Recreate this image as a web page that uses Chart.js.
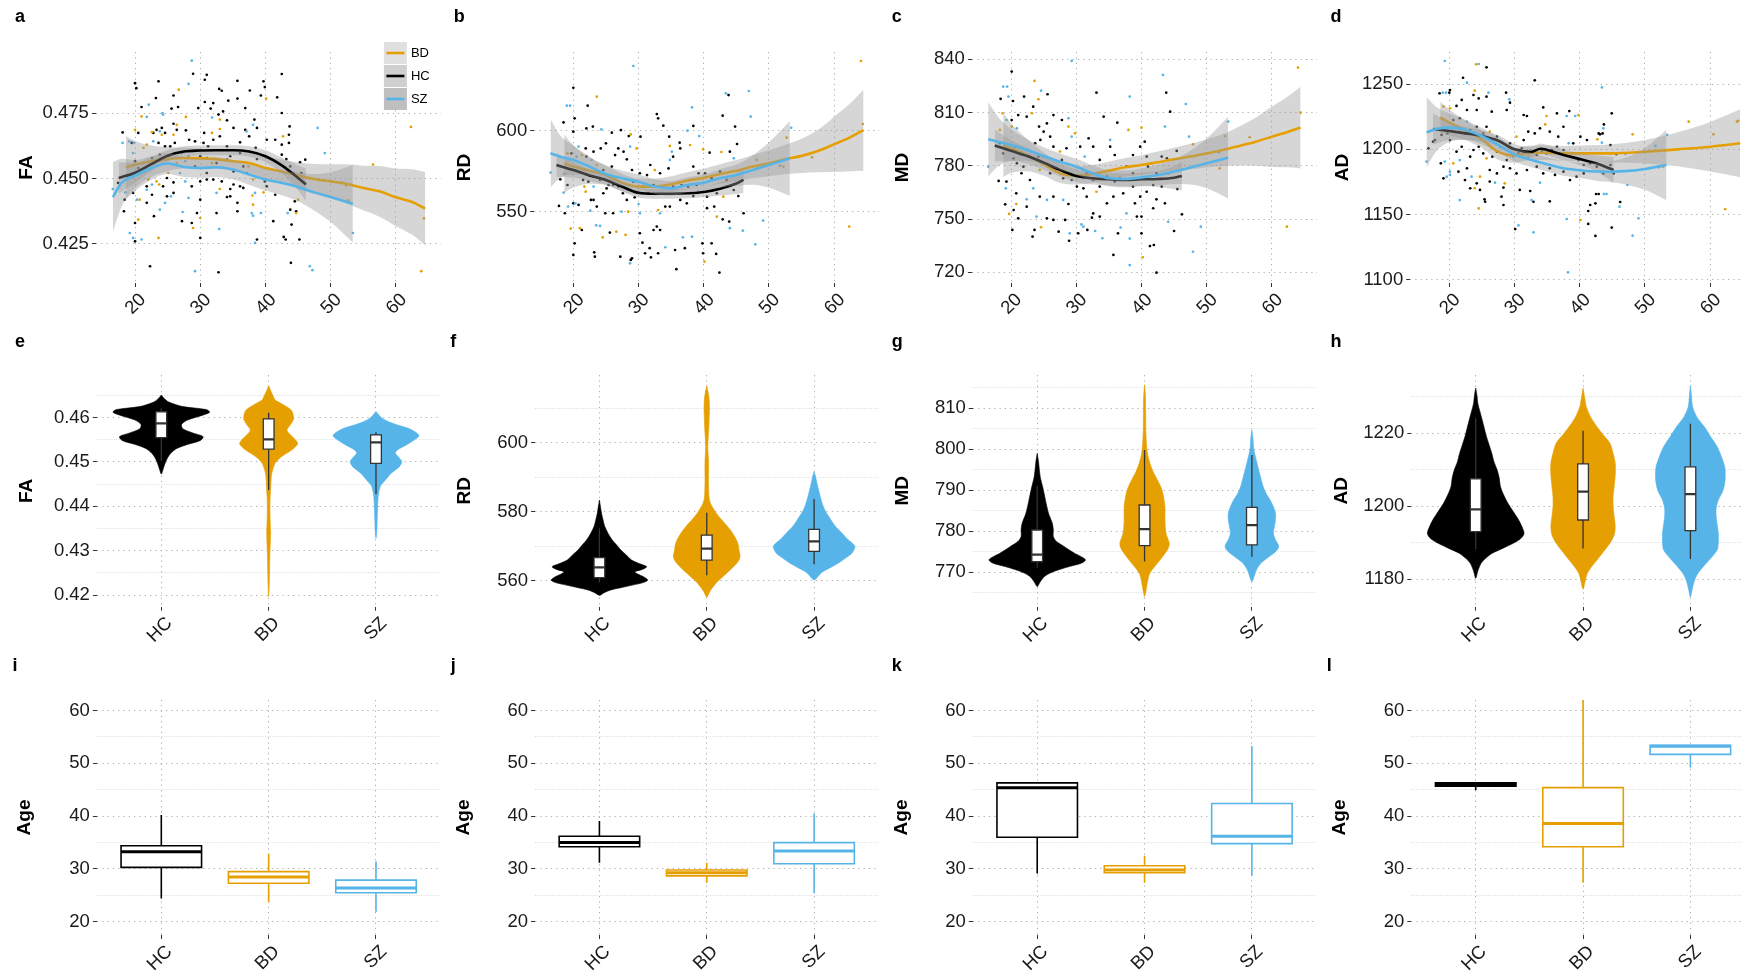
<!DOCTYPE html>
<html>
<head>
<meta charset="utf-8">
<title>DTI metrics by age and diagnosis</title>
<script src="https://cdn.jsdelivr.net/npm/chart.js@4.4.1/dist/chart.umd.min.js"></script>
<style>
  html, body { margin: 0; padding: 0; background: #ffffff; }
  body { position: relative; width: 1742px; height: 971px; overflow: hidden; }
  canvas { position: absolute; }
  .panel-letter { position: absolute; width: 30px; text-align: center; font: bold 18px "Liberation Sans", Arial, Helvetica, sans-serif; line-height: 18px; color: #000; }
</style>
</head>
<body>
<script>
// ---------- groups ----------
const CATEGORIES = ['HC', 'BD', 'SZ'];
const GROUP_COLORS = { HC: '#000000', BD: '#E69F00', SZ: '#56B4E9' };

// ---------- axes ----------
const AGE_TICKS = [20, 30, 40, 50, 60];
const AGE_RANGE = [14.0, 66.9];
const CAT_TICKS = [1, 2, 3];
const CAT_RANGE = [0.4, 3.6];

// ---------- panel a: FA vs age (age, FA pairs) ----------
const faPtsHC = [28.9,.4900, 31.0,.4896, 30.7,.4877, 42.5,.4899, 35.7,.4873, 39.7,.4871, 20.2,.4845, 20.0,.4864, 23.6,.4871, 32.9,.4842, 33.3,.4835, 37.6,.4836, 39.9,.4849, 39.3,.4817, 41.8,.4810, 25.9,.4817, 23.2,.4807, 30.7,.4792, 32.0,.4788, 34.3,.4797, 35.7,.4805, 21.0,.4773, 29.7,.4769, 31.6,.4767, 36.9,.4769, 25.6,.4767, 26.6,.4773, 34.1,.4722, 42.5,.4750, 38.3,.4725, 32.8,.4744, 33.5,.4756, 25.9,.4709, 26.4,.4686, 27.8,.4684, 23.3,.4686, 24.1,.4693, 22.8,.4674, 18.1,.4676, 20.5,.4674, 24.6,.4674, 30.6,.4674, 35.1,.4693, 36.9,.4686, 38.7,.4693, 43.7,.4699, 43.6,.4667, 43.6,.4636, 19.5,.4636, 23.6,.4636, 24.6,.4623, 25.4,.4623, 26.1,.4636, 28.3,.4648, 29.2,.4642, 30.5,.4636, 31.2,.4623, 32.0,.4648, 33.0,.4661, 34.1,.4623, 36.1,.4638, 37.5,.4661, 38.5,.4617, 40.2,.4648, 41.5,.4648, 42.5,.4629, 42.5,.4591, 43.2,.4574, 38.7,.4574, 36.1,.4597, 34.6,.4585, 32.5,.4559, 31.0,.4578, 30.0,.4585, 23.8,.4591, 22.6,.4578, 21.3,.4559, 20.0,.4566, 43.8,.4546, 44.3,.4521, 45.5,.4521, 46.1,.4572, 45.3,.4562, 44.7,.4375, 43.8,.4381, 43.1,.4267, 44.0,.4324, 45.2,.4267, 43.9,.4178, 42.8,.4277, 44.5,.4413, 41.2,.4337, 41.5,.4438, 40.2,.4470, 39.9,.4489, 38.7,.4267, 35.7,.4407, 35.7,.4375, 34.6,.4432, 34.1,.4429, 34.6,.4460, 35.1,.4477, 36.1,.4470, 36.6,.4464, 33.3,.4489, 32.0,.4496, 31.0,.4496, 30.0,.4489, 30.0,.4419, 29.5,.4368, 30.0,.4273, 28.7,.4330, 27.2,.4337, 28.7,.4470, 25.9,.4485, 24.9,.4502, 25.9,.4445, 22.9,.4356, 20.0,.4260, 20.0,.4330, 19.7,.4445, 18.4,.4419, 18.3,.4375, 17.4,.4483, 21.8,.4470, 24.3,.4470, 22.6,.4438, 24.9,.4432, 21.8,.4407, 22.3,.4165, 32.8,.4142, 32.5,.4368, 20.5,.4540, 19.5,.4515, 29.2,.4546, 31.0,.4521, 34.1,.4572, 35.1,.4527, 36.6,.4546, 37.1,.4521];
const faPtsBD = [26.7,.4839, 40.1,.4805, 27.8,.4735, 21.0,.4737, 33.0,.4725, 26.4,.4705, 22.6,.4677, 20.0,.4686, 24.1,.4667, 25.9,.4667, 31.8,.4674, 33.0,.4689, 42.7,.4661, 21.8,.4629, 21.3,.4617, 56.5,.4553, 62.3,.4697, 64.3,.4348, 63.9,.4146, 52.7,.4417, 52.4,.4474, 48.1,.4496, 45.0,.4419, 44.7,.4368, 39.7,.4447, 38.1,.4496, 38.0,.4435, 38.1,.4400, 33.0,.4460, 30.0,.4349, 28.9,.4311, 23.6,.4273, 20.5,.4343, 20.7,.4419, 22.0,.4496, 23.3,.4489, 23.7,.4477, 25.1,.4521, 26.4,.4559, 31.8,.4559, 37.4,.4546];
const faPtsSZ = [28.7,.4950, 28.2,.4861, 22.1,.4782, 24.2,.4750, 24.3,.4744, 21.8,.4735, 31.8,.4733, 23.8,.4680, 37.1,.4680, 38.1,.4705, 48.0,.4693, 19.8,.4636, 19.1,.4642, 22.8,.4642, 28.2,.4585, 27.2,.4597, 19.7,.4597, 18.1,.4636, 49.1,.4597, 53.4,.4292, 51.7,.4485, 43.4,.4368, 46.8,.4165, 47.2,.4150, 38.4,.4445, 37.9,.4368, 38.1,.4358, 39.3,.4368, 38.4,.4254, 32.5,.4445, 27.3,.4372, 28.2,.4426, 27.7,.4489, 26.9,.4521, 25.5,.4432, 24.6,.4407, 23.8,.4381, 21.0,.4267, 19.7,.4273, 19.2,.4292, 20.3,.4419, 18.5,.4447, 18.7,.4496, 16.6,.4460, 22.6,.4477, 21.8,.4457, 29.2,.4146, 32.9,.4307, 21.5,.4527, 27.7,.4566];
// smooth fits: [age, fit, half-width of confidence band]
const faFitBD = [[18.6,.4542,.012],[20,.4553,.009],[22.5,.4566,.006],[25,.4574,.0045],[27.5,.4578,.004],[30,.4577,.0037],[32.5,.4574,.0036],[35,.4566,.0037],[37.5,.4559,.0039],[40,.4540,.0042],[42.5,.4527,.0046],[45,.4511,.005],[47.5,.4498,.0057],[50,.4489,.0065],[52.5,.4479,.0075],[55,.4464,.0085],[57.5,.4451,.0097],[60,.4428,.011],[62.5,.4410,.0125],[64.5,.4385,.014]];
const faFitHC = [[17.5,.4502,.006],[20,.4522,.0038],[22.5,.4555,.0027],[25,.4587,.0022],[27.5,.4603,.002],[30,.4607,.0019],[32.5,.4608,.0019],[35,.4608,.0019],[37.5,.4603,.002],[40,.4585,.0023],[42.5,.4550,.003],[45,.4502,.0048],[46.2,.4477,.0062]];
const faFitSZ = [[16.6,.4429,.0134],[18,.4485,.009],[20,.4511,.006],[22.5,.4540,.0045],[25,.4557,.004],[27.5,.4544,.0038],[30,.4540,.0037],[32.5,.4543,.0037],[35,.4534,.0037],[37.5,.4515,.0039],[40,.4496,.0042],[42.5,.4483,.0047],[45,.4468,.0055],[47.5,.4447,.007],[50,.4429,.0095],[53.4,.4404,.0148]];

// ---------- panel b: RD vs age ----------
const rdPtsHC = [20.0,626.4, 20.2,607.6, 22.2,615.4, 18.5,605.1, 23.0,602.5, 22.0,601.4, 20.0,599.4, 25.9,598.8, 27.3,600.4, 28.5,596.7, 30.3,596.3, 32.8,610.2, 33.8,603.1, 33.0,607.6, 34.7,596.3, 36.3,592.6, 40.9,586.5, 44.0,587.1, 45.1,591.8, 38.4,602.9, 43.8,621.9, 42.9,609.2, 44.8,602.5, 46.1,549.2, 43.9,544.1, 42.9,545.5, 41.6,553.3, 40.5,552.3, 39.9,524.6, 41.9,524.2, 42.4,512.7, 41.2,530.7, 39.8,530.7, 37.1,527.7, 35.8,514.8, 35.6,526.6, 32.8,541.0, 33.3,538.9, 32.3,538.9, 31.7,527.7, 31.9,522.1, 31.0,524.6, 30.6,531.1, 33.0,524.6, 30.2,536.9, 28.8,520.5, 29.0,521.5, 27.2,522.5, 25.6,537.3, 23.2,525.2, 23.3,522.5, 21.3,538.9, 20.2,530.7, 20.0,523.6, 18.7,549.2, 20.0,555.3, 20.8,554.3, 17.8,553.7, 18.0,570.1, 19.1,566.6, 22.7,557.4, 23.1,557.4, 24.6,561.5, 25.1,564.5, 26.1,566.6, 26.9,565.6, 27.6,561.5, 28.2,557.4, 29.4,559.0, 31.5,561.5, 34.1,553.3, 34.8,553.3, 36.4,557.4, 37.4,555.3, 38.4,559.8, 40.5,559.4, 42.0,561.5, 43.5,565.6, 44.6,563.5, 45.3,559.8, 25.9,577.9, 24.6,575.8, 22.0,584.0, 19.7,586.1, 21.9,589.1, 23.1,587.1, 24.2,589.1, 25.0,592.2, 26.4,585.0, 26.9,589.1, 27.7,587.1, 28.2,582.4, 29.0,575.8, 30.2,573.8, 31.3,572.7, 31.8,578.9, 33.3,573.8, 34.6,576.8, 35.3,584.0, 36.4,589.1, 38.4,577.9, 39.2,573.8, 40.2,573.8, 41.2,570.7, 42.5,574.8, 43.5,569.7, 25.4,566.6, 24.1,569.7, 22.3,568.6, 21.5,569.7, 35.3,565.6, 36.6,566.6, 37.6,565.6, 38.9,566.6, 32.3,566.6, 30.7,565.6, 29.2,568.6, 23.6,553.3, 24.9,549.2, 26.1,549.2];
const rdPtsBD = [64.1,642.8, 64.4,604.1, 56.6,583.6, 62.3,541.0, 23.6,620.9, 28.8,597.7, 34.8,590.6, 37.9,591.2, 39.9,588.5, 42.7,586.9, 52.2,577.9, 52.7,595.7, 48.1,582.0, 42.0,547.1, 40.1,519.5, 28.0,535.9, 26.6,537.9, 24.5,534.4, 21.0,540.0, 19.6,539.8, 21.7,565.6, 21.9,562.5, 33.0,551.2, 43.0,559.4, 23.6,578.9, 21.3,585.0, 19.1,586.1, 29.7,589.1, 32.5,575.8, 28.4,550.2];
const rdPtsSZ = [29.2,639.8, 46.9,624.4, 47.2,608.6, 43.4,623.0, 38.2,614.3, 39.3,596.7, 37.5,600.0, 19.0,615.4, 19.5,615.4, 24.3,600.8, 35.1,587.1, 44.6,583.0, 51.7,578.5, 53.4,601.8, 46.0,538.5, 47.9,530.1, 49.1,544.7, 44.0,540.0, 38.2,534.8, 36.8,534.4, 34.1,528.3, 28.7,518.4, 24.1,541.4, 23.5,541.8, 19.2,553.3, 20.3,555.3, 18.5,561.9, 18.6,573.4, 30.0,554.9, 30.2,549.2, 33.3,549.2, 39.1,562.5, 22.8,582.0, 20.5,584.0, 20.8,590.2, 28.7,590.2, 34.8,582.0, 25.9,570.7, 23.1,565.6, 27.4,550.2, 22.6,550.8, 16.5,574.2];
const rdFitBD = [[18.6,579.8,18],[20,577.9,13],[22.5,575.4,8],[25,572.7,6],[27.5,568,5.3],[30,565.6,5],[32.5,565.6,5],[35,567,5],[37.5,569.3,5.2],[40,571.1,5.5],[42.5,573.4,6],[45,575.4,6.5],[47.5,577.9,7.2],[50,579.9,8],[52.5,582.4,9],[55,584.5,10.5],[57.5,587.5,13],[60,591.6,17],[62.5,596,21],[64.5,600.4,25]];
const rdFitHC = [[17.4,578.9,7.5],[20,575.8,4.8],[22.5,572.5,3.6],[25,569.7,3.1],[27.5,565.5,3],[30,561.8,3],[32.5,561.2,3],[35,561.2,3],[37.5,561.5,3.1],[40,562.3,3.3],[42.5,564.3,4.2],[45,567.5,6.5],[46.1,569.7,8]];
const rdFitSZ = [[16.5,586.1,21],[18,584,13],[20,582,9],[22.5,577.9,6],[25,573.4,5],[27.5,570.7,4.7],[30,568.6,4.5],[32.5,565.6,4.5],[35,564.5,4.5],[37.5,566.6,4.7],[40,568,5],[42.5,570.7,5.6],[45,572.7,6.5],[47.5,575.8,9],[50,578.9,14],[53.2,583,23]];

// ---------- panel c: MD vs age ----------
const mdPtsHC = [20.1,833.1, 18.4,817.7, 20.3,816.5, 22.0,819.0, 25.6,820.3, 33.1,821.2, 43.8,821.2, 44.4,810.5, 46.2,752.7, 45.5,766.9, 45.4,788.4, 45.0,743.3, 43.6,758.9, 43.1,768.3, 42.3,761.1, 41.8,756.1, 41.9,735.4, 41.3,734.8, 42.3,719.8, 40.0,751.4, 40.0,742.0, 39.3,751.4, 39.0,758.9, 36.4,742.0, 35.7,729.8, 34.7,758.9, 33.6,751.4, 32.6,753.2, 32.4,750.8, 31.7,743.9, 30.3,742.0, 28.9,737.8, 28.3,749.5, 27.3,742.9, 26.5,749.5, 25.5,750.4, 23.6,743.9, 23.3,740.1, 22.4,757.0, 21.1,750.4, 20.4,755.1, 20.2,743.9, 19.1,758.3, 20.8,764.5, 19.3,771.1, 18.1,771.5, 20.4,784.2, 20.6,790.8, 21.9,779.5, 23.7,792.7, 24.2,785.2, 24.5,794.6, 25.0,799.2, 26.0,796.4, 26.5,790.8, 27.8,783.3, 28.5,789.9, 30.6,790.8, 31.9,795.5, 32.6,790.8, 33.6,783.3, 34.2,807.7, 35.2,790.8, 35.9,786.1, 36.3,804.3, 38.7,786.1, 39.8,790.8, 40.5,793.6, 40.8,785.2, 41.0,779.5, 42.3,775.8, 43.1,785.2, 43.9,784.2, 44.1,775.8, 38.7,775.8, 37.7,779.5, 36.7,773.0, 35.9,771.1, 34.7,773.9, 33.6,768.3, 32.6,772.0, 31.6,775.8, 31.1,767.3, 30.1,768.3, 29.3,772.0, 28.0,773.0, 27.0,778.6, 26.0,775.8, 25.2,781.4, 22.9,772.0, 21.6,775.8, 20.9,781.4, 18.8,787.0, 18.3,792.7, 22.4,807.7, 23.4,813.3, 24.3,802.1, 25.5,803.9, 26.5,808.6, 27.8,805.8, 20.1,805.8, 21.1,808.6, 31.6,762.6, 35.7,762.6, 37.2,764.5, 38.7,768.3, 39.8,762.6, 40.8,765.4, 41.8,769.2, 28.8,758.5, 26.5,762.6, 24.4,762.6];
const mdPtsBD = [23.6,827.8, 24.2,817.5, 64.0,835.3, 64.4,809.9, 56.6,796.1, 52.8,796.8, 52.0,778.6, 47.9,792.1, 40.2,728.5, 24.6,745.4, 19.7,752.9, 20.8,758.5, 27.5,788.0, 29.8,798.3, 38.0,800.2, 24.4,777.7, 18.3,800.2, 18.7,809.6, 20.1,802.1, 23.2,809.6, 28.8,802.1, 33.1,765.4, 62.3,745.7, 40.0,801.5];
const mdPtsSZ = [29.3,839.1, 18.8,824.6, 19.4,824.6, 19.6,819.0, 24.6,822.3, 43.3,831.2, 38.2,819.0, 46.8,814.8, 53.3,804.9, 51.9,787.6, 47.3,796.4, 49.1,745.7, 47.9,731.6, 44.1,748.5, 38.2,739.0, 38.2,724.1, 37.7,753.2, 36.8,745.2, 34.0,739.2, 32.9,743.3, 31.1,745.7, 30.8,747.0, 29.0,742.0, 23.9,751.4, 22.4,761.1, 23.4,767.3, 19.2,767.3, 21.4,786.1, 22.7,788.9, 29.3,796.4, 31.3,785.2, 35.2,794.6, 20.9,801.1, 28.8,806.8, 19.3,805.8, 28.0,760.8, 25.5,760.8, 16.5,779.5, 43.6,802.1];
const mdFitBD = [[18.8,791.7,18],[20,790,14],[22.5,786,9],[25,781,6.5],[27.5,775.8,5.5],[30,774.5,5],[32.5,775.4,5],[35,777.3,5],[37.5,779.2,5.2],[40,780.5,5.5],[42.5,782,6],[45,783.7,6.5],[47.5,785.2,7.2],[50,787,8],[52.5,788.9,9],[55,791.2,11],[57.5,793.6,13.5],[60,796.4,17],[62.5,799.2,20],[64.4,801.5,23]];
const mdFitHC = [[17.5,791.4,9],[20,788.5,6],[22.5,785.5,4.5],[25,781.8,4],[27.5,777.7,3.7],[30,774.3,3.5],[32.5,773,3.5],[35,772.4,3.5],[37.5,772,3.6],[40,772.4,3.8],[42.5,772.6,4.5],[45,773.3,6.5],[46.2,774.3,8]];
const mdFitSZ = [[16.5,795,21],[18,793.6,14],[20,791.7,9],[22.5,788.9,6],[25,785.5,5],[27.5,782.3,4.7],[30,779.5,4.5],[32.5,775.8,4.5],[35,773,4.5],[37.5,772.6,4.7],[40,773.5,5],[42.5,774.8,5.8],[45,776.7,7],[47.5,779,9.5],[50,781.4,14],[53.3,784.6,23]];

// ---------- panel d: AD vs age ----------
const adPtsHC = [25.7,1262.8, 22.1,1254.8, 18.5,1242.9, 20.1,1245.4, 20.0,1243.4, 23.7,1241.6, 24.5,1239.0, 33.1,1252.8, 28.7,1243.4, 25.7,1240.3, 21.9,1237.8, 21.1,1233.2, 22.7,1230.1, 24.2,1230.1, 26.5,1228.8, 29.3,1235.7, 28.8,1230.1, 31.4,1226.3, 31.9,1225.5, 34.4,1232.1, 36.5,1227.6, 38.4,1229.3, 44.9,1227.6, 43.1,1211.5, 43.5,1212.2, 43.7,1219.1, 42.9,1212.2, 44.7,1203.3, 45.6,1196.4, 46.2,1159.7, 44.9,1140.1, 42.5,1165.8, 42.9,1165.8, 42.4,1158.7, 41.6,1157.4, 41.3,1152.8, 42.4,1133.7, 41.3,1142.9, 35.4,1160.2, 32.4,1168.1, 32.9,1159.9, 30.1,1139.0, 30.8,1168.9, 28.3,1170.7, 28.0,1163.8, 28.3,1157.4, 26.2,1175.3, 25.4,1161.7, 25.5,1159.9, 24.7,1168.9, 24.2,1174.0, 23.2,1170.2, 22.7,1185.5, 22.4,1176.5, 21.4,1182.9, 19.1,1177.8, 18.7,1189.3, 16.8,1200.8, 17.5,1205.9, 17.8,1207.1, 18.8,1211.0, 19.7,1212.2, 20.1,1207.1, 21.1,1198.2, 21.9,1202.0, 23.2,1194.4, 23.7,1199.5, 24.5,1202.0, 25.2,1196.9, 26.6,1194.4, 27.3,1198.2, 27.8,1202.0, 28.8,1191.8, 30.6,1196.9, 31.1,1200.8, 33.4,1195.7, 34.2,1198.2, 34.9,1196.9, 35.7,1199.5, 36.5,1202.0, 37.5,1199.5, 39.0,1204.6, 39.8,1191.8, 40.6,1188.0, 41.6,1189.3, 42.6,1186.7, 43.6,1181.6, 44.7,1188.0, 45.2,1181.6, 27.3,1209.7, 25.7,1217.3, 25.2,1212.2, 24.2,1217.3, 23.2,1214.8, 22.4,1212.2, 21.1,1217.3, 20.6,1222.4, 21.6,1223.7, 29.3,1204.6, 31.4,1207.1, 32.1,1213.5, 33.1,1212.2, 33.9,1216.1, 35.4,1213.5, 36.7,1209.7, 37.5,1217.3, 40.1,1209.7, 41.1,1207.1, 35.4,1185.5, 36.2,1180.4, 37.5,1182.9, 38.5,1176.5, 39.5,1179.1, 40.6,1181.6, 34.4,1181.6, 33.4,1186.7, 31.9,1184.2, 30.3,1181.6, 29.3,1185.5, 28.3,1186.7, 27.3,1181.6, 26.2,1184.2];
const adPtsBD = [24.1,1265.1, 23.9,1244.9, 20.1,1231.4, 19.1,1232.7, 34.9,1225.5, 39.8,1226.3, 56.7,1221.2, 64.1,1221.2, 64.3,1221.9, 60.5,1211.5, 48.1,1211.5, 42.7,1207.7, 44.5,1196.9, 52.8,1186.7, 40.1,1145.9, 28.5,1174.0, 23.9,1170.2, 24.7,1179.1, 24.5,1154.8, 20.6,1189.3, 25.7,1193.1, 32.1,1194.4, 26.2,1213.5, 21.6,1214.8, 30.3,1209.7, 34.7,1219.1, 62.3,1154.3];
const adPtsSZ = [19.3,1267.6, 24.5,1265.3, 19.0,1243.4, 19.5,1243.4, 22.7,1251.0, 43.4,1247.4, 26.0,1243.4, 29.2,1238.3, 38.0,1225.5, 39.3,1225.5, 53.4,1211.0, 43.6,1216.1, 43.4,1205.1, 47.0,1196.4, 52.1,1186.2, 51.6,1202.6, 47.3,1172.7, 46.1,1156.1, 49.0,1147.2, 48.1,1133.9, 43.7,1165.8, 44.1,1165.8, 38.0,1146.7, 38.2,1105.9, 33.9,1174.5, 32.6,1161.2, 30.6,1141.8, 27.0,1174.5, 23.4,1179.1, 21.6,1161.2, 20.1,1182.9, 19.6,1179.1, 19.3,1190.6, 20.1,1180.4, 21.6,1191.8, 16.5,1190.6, 29.8,1194.4, 32.4,1199.5, 38.3,1204.6, 22.7,1221.2, 32.9,1136.5];
const adFitBD = [[18.6,1224.5,12],[20,1220.5,10],[22.5,1214.5,7.5],[25,1207.5,6.5],[27.5,1198,6],[30,1195.3,5.5],[32.5,1197.4,5.5],[35,1197.4,5.5],[37.5,1196.9,5.7],[40,1196.9,6],[42.5,1196.9,6.5],[45,1196.9,7],[50,1198.2,9],[55,1200,13],[60,1202,19],[64.6,1204.6,26]];
const adFitHC = [[17.5,1215.6,12],[20,1214,7],[22.5,1212.2,5],[25,1210.2,4.5],[27.5,1206.6,4.2],[30,1200,4],[32.5,1198,4],[34,1200.5,4],[35,1199.5,4],[37.5,1195.7,4.2],[40,1192.6,4.5],[42.5,1189.3,6],[45.2,1184.2,10]];
const adFitSZ = [[16.5,1213,27],[18,1215.5,17],[20,1216.6,11],[22.5,1215,7.5],[25,1210,6.3],[27.5,1203.5,5.8],[30,1196,5.5],[32.5,1192,5.5],[35,1188.5,5.5],[37.5,1185.5,5.7],[40,1184,6],[42.5,1183,7],[45,1182.9,8],[47.5,1183.5,11],[50,1185,16],[53.3,1188,27]];

// ---------- panels e-h: violin outlines [value, half-width] and box stats [low, q1, median, q3, high] ----------
const faViolinHC = [[.4651,0],[.4645,.02],[.4635,.07],[.4625,.2],[.4618,.42],[.4612,.45],[.4605,.38],[.4595,.25],[.4585,.19],[.4575,.2],[.4565,.3],[.4557,.39],[.4548,.36],[.4540,.25],[.4530,.14],[.4520,.09],[.4510,.06],[.4500,.04],[.4490,.025],[.4480,.012],[.4473,0]];
const faViolinBD = [[.4672,0],[.4660,.02],[.4650,.04],[.4640,.06],[.4630,.13],[.4617,.21],[.4605,.23],[.4595,.23],[.4583,.2],[.4572,.17],[.4562,.2],[.4550,.25],[.4541,.27],[.4530,.23],[.4520,.17],[.4510,.11],[.4497,.06],[.4480,.035],[.4467,.025],[.4445,.02],[.4420,.014],[.4400,.012],[.4370,.014],[.4345,.018],[.4320,.016],[.4295,.012],[.4250,.008],[.4220,.005],[.4197,0]];
const faViolinSZ = [[.4614,0],[.4605,.03],[.4595,.08],[.4585,.18],[.4576,.3],[.4567,.37],[.4559,.4],[.4550,.36],[.4538,.28],[.4529,.21],[.4521,.18],[.4511,.21],[.4501,.24],[.4490,.22],[.4482,.18],[.4472,.13],[.4463,.1],[.4452,.06],[.4445,.04],[.4430,.025],[.4415,.018],[.4390,.014],[.4370,.011],[.4345,.008],[.4328,0]];
const faBox = [[.4503,.4555,.4587,.4613,.4621],[.4437,.4529,.4551,.4597,.4611],[.4428,.4497,.4544,.4561,.4567]];

const rdViolinHC = [[583.4,0],[581.5,.01],[579.5,.02],[577.5,.035],[575.7,.05],[573.8,.08],[571.8,.12],[570.4,.16],[568.9,.2],[567.5,.25],[566,.3],[565,.37],[564.1,.44],[563.3,.4],[562.6,.33],[561.9,.36],[561.2,.41],[560.2,.45],[559.4,.4],[558.7,.3],[558,.2],[557.3,.1],[556.5,.04],[555.8,0]];
const rdViolinBD = [[616.5,0],[613.3,.02],[610,.025],[606.6,.022],[603.5,.018],[601.7,.014],[598.8,.01],[597,.012],[595,.016],[592,.017],[589.2,.016],[586,.018],[584,.022],[582.4,.035],[581,.06],[579.5,.09],[578,.13],[576.6,.17],[574.7,.22],[572.8,.26],[570.8,.29],[568.9,.3],[567,.31],[565.5,.29],[564.1,.25],[562.6,.2],[561.2,.15],[559.8,.1],[558.3,.06],[557,.03],[556,.015],[555.2,0]];
const rdViolinSZ = [[591.6,0],[590.4,.012],[589.2,.02],[587.2,.035],[585.3,.05],[583,.07],[580.5,.1],[578,.15],[575.7,.2],[573.8,.26],[571.8,.32],[570.8,.36],[569.9,.38],[568.9,.37],[567.9,.35],[566.5,.29],[565,.22],[563.8,.15],[562.6,.08],[561.4,.04],[560.2,0]];
const rdBox = [[559.5,560.9,563.9,566.7,575.2],[561.6,566,569.3,573.2,579.7],[564.8,568.5,571.4,574.9,583.7]];

const mdViolinHC = [[799,0],[797,.012],[795,.02],[793,.03],[790.9,.05],[788.5,.07],[786,.09],[784,.11],[782,.14],[780.4,.15],[778.7,.15],[777.5,.18],[776.3,.25],[775.4,.3],[774.6,.35],[773.8,.41],[773,.45],[772.2,.41],[771.4,.3],[770.6,.2],[769.8,.12],[769,.07],[768.1,.04],[767.3,.02],[766.5,0]];
const mdViolinBD = [[815.7,0],[813,.008],[810.4,.01],[807.5,.011],[804.7,.012],[802.6,.015],[800.6,.02],[798.6,.03],[796.6,.05],[794.5,.08],[792.5,.12],[790.9,.15],[789.3,.17],[786,.19],[782.8,.19],[779.5,.2],[777.1,.23],[775.8,.22],[774.6,.19],[772.2,.12],[769.8,.05],[768,.03],[766.5,.02],[765,.01],[764.1,0]];
const mdViolinSZ = [[804.7,0],[802.6,.01],[800.6,.015],[799,.025],[797.4,.04],[795.3,.06],[793.3,.08],[791.3,.1],[789.3,.13],[787.6,.17],[786,.2],[784.4,.22],[782.8,.22],[781.2,.21],[779.5,.2],[777.9,.22],[776.3,.25],[775,.22],[773.8,.16],[772.6,.1],[771.4,.06],[770.1,.035],[768.9,.02],[767.7,0]];
const mdBox = [[771.1,772.6,774.3,780.3,791.1],[772.6,776.5,780.5,786.4,799.8],[773.8,776.7,781.5,785.8,798.6]];

const adViolinHC = [[1232.4,0],[1230.3,.012],[1228.2,.02],[1225.9,.04],[1223.7,.06],[1221.4,.08],[1219.1,.1],[1216.8,.125],[1214.5,.15],[1212.2,.17],[1209.9,.2],[1207.6,.22],[1205.4,.23],[1203.1,.26],[1200.8,.3],[1198.5,.35],[1196.2,.4],[1194.4,.43],[1192.5,.45],[1191.1,.42],[1189.8,.35],[1188.4,.25],[1187,.15],[1185.6,.09],[1184.3,.05],[1182.2,.02],[1180.2,0]];
const adViolinBD = [[1232.4,0],[1229.8,.015],[1227.3,.03],[1224.5,.07],[1221.8,.13],[1219.5,.19],[1217.3,.25],[1214.5,.28],[1211.8,.3],[1208.6,.3],[1205.4,.29],[1202.6,.28],[1199.9,.28],[1197.1,.29],[1194.4,.3],[1192.1,.29],[1189.8,.25],[1187.5,.19],[1185.2,.13],[1183.4,.08],[1181.6,.04],[1179.4,.02],[1177.2,0]];
const adViolinSZ = [[1233.1,0],[1230.2,.01],[1227.3,.02],[1224.5,.06],[1221.8,.13],[1219,.19],[1216.3,.25],[1213.5,.29],[1210.8,.32],[1208.5,.325],[1206.3,.32],[1204,.3],[1201.7,.26],[1199.4,.24],[1197.1,.24],[1194.8,.25],[1192.5,.26],[1190.2,.26],[1188,.25],[1185.7,.19],[1183.4,.12],[1181.1,.06],[1178.8,.03],[1176.9,.015],[1175,0]];
const adBox = [[1188.2,1193,1199.1,1207.5,1224.1],[1188.4,1196.2,1204,1211.6,1220.7],[1185.5,1193.3,1203.3,1210.8,1222.6]];

// ---------- panels i-l: age box stats [low, q1, median, q3, high] for HC, BD, SZ ----------
const ageBoxI = [[24.4,30.3,33.25,34.4,40.2],[23.7,27.3,28.5,29.5,32.9],[21.9,25.5,26.4,27.9,31.4]];
const ageBoxJ = [[31.2,34.2,35.0,36.2,39.1],[27.4,28.7,29.3,29.8,31.2],[25.4,31.0,33.4,35.0,40.5]];
const ageBoxK = [[29.15,36.0,45.4,46.3,46.3],[27.4,29.3,29.8,30.6,32.5],[28.7,34.8,36.2,42.4,53.3]];
const ageBoxL = [[44.9,45.7,46.0,46.3,46.3],[27.4,34.2,38.6,45.4,62.1],[49.2,51.7,53.25,53.4,53.4]];

// ---------- styling ----------
const FONT_FAMILY = '"Liberation Sans", Arial, Helvetica, sans-serif';
const RIBBON_FILL = 'rgba(153,153,153,0.4)';
const MAJOR_GRID = '#b0b0b0';
const MINOR_GRID = '#d6d6d6';
const TICK_TEXT = '#1a1a1a';
Chart.defaults.font.family = FONT_FAMILY;
Chart.defaults.color = TICK_TEXT;

// page layout (pixels)
const ROWS = [
  { top: 0,   height: 330, plotTop: 52,  plotBottom: 283 },
  { top: 320, height: 330, plotTop: 375, plotBottom: 606.7 },
  { top: 650, height: 321, plotTop: 700, plotBottom: 935 }
];
const COL_LEFT = [0, 440, 880, 1318];
const PLOT_LEFT = [[95.9, 534.2, 971.9, 1410.2], [96.9, 535, 972.8, 1411.3], [96.9, 535, 972.8, 1411.3]];
const PLOT_WIDTH = [345, 343.5, 343.5];
const TITLE_CENTER = [[26.7, 25, 22.5, 25], [26.7, 24.7, 22.8, 24], [25, 24, 21.3, 21.5]];
const PANEL_LETTERS = [
  ['a', 20, 22.5], ['b', 459.3, 22.5], ['c', 896.7, 22.5], ['d', 1336, 22],
  ['e', 20, 347], ['f', 453.3, 347], ['g', 897.3, 347], ['h', 1336, 347],
  ['i', 15, 670.7], ['j', 453.3, 670.7], ['k', 896.7, 670.7], ['l', 1329.3, 670.7]
];

function pairs(flat) {
  const out = [];
  for (let i = 0; i < flat.length; i += 2) out.push({ x: flat[i], y: flat[i + 1] });
  return out;
}

function setDrawOrder(ds) {
  // first dataset is painted first (bottom), last on top
  ds.forEach((d, i) => { d.order = -i; });
  return ds;
}

function scatterDatasets(pts, fits) {
  const ds = [];
  ['HC', 'BD', 'SZ'].forEach(g => ds.push({
    type: 'scatter', data: pairs(pts[g]), pointRadius: 1.35, pointHoverRadius: 0,
    pointBorderWidth: 0, backgroundColor: GROUP_COLORS[g], borderColor: GROUP_COLORS[g]
  }));
  ['BD', 'HC', 'SZ'].forEach(g => {
    const rows = fits[g];
    const lowerIndex = ds.length;
    const edge = { type: 'line', borderWidth: 0, borderColor: 'rgba(0,0,0,0)', pointRadius: 0, cubicInterpolationMode: 'monotone' };
    ds.push({ ...edge, data: rows.map(r => ({ x: r[0], y: r[1] - r[2] })), fill: false });
    ds.push({ ...edge, data: rows.map(r => ({ x: r[0], y: r[1] + r[2] })), fill: lowerIndex, backgroundColor: RIBBON_FILL });
    ds.push({ type: 'line', data: rows.map(r => ({ x: r[0], y: r[1] })), borderColor: GROUP_COLORS[g], borderWidth: 2.6,
      pointRadius: 0, fill: false, cubicInterpolationMode: 'monotone' });
  });
  return setDrawOrder(ds);
}

function boxDatasets(c, s, half, stroke, fillColor, lw, medianLw) {
  const [lo, q1, med, q3, hi] = s;
  const base = { type: 'line', pointRadius: 0, borderColor: stroke, fill: false, tension: 0 };
  return [
    { ...base, data: [{ x: c, y: lo }, { x: c, y: q1 }], borderWidth: lw },
    { ...base, data: [{ x: c, y: q3 }, { x: c, y: hi }], borderWidth: lw },
    { ...base, data: [{ x: c - half, y: q1 }, { x: c + half, y: q1 }, { x: c + half, y: q3 }, { x: c - half, y: q3 }, { x: c - half, y: q1 }],
      borderWidth: lw, fill: 'shape', backgroundColor: fillColor, borderJoinStyle: 'miter', borderCapStyle: 'square' },
    { ...base, data: [{ x: c - half, y: med }, { x: c + half, y: med }], borderWidth: medianLw }
  ];
}

function violinDatasets(profiles, stats) {
  const ds = [];
  CATEGORIES.forEach((g, i) => {
    const c = i + 1;
    const prof = profiles[i];
    const right = prof.map(([v, w]) => ({ x: c + w, y: v }));
    const left = prof.slice(0, -1).reverse().map(([v, w]) => ({ x: c - w, y: v }));
    ds.push({ type: 'line', data: right.concat(left), fill: 'shape', backgroundColor: GROUP_COLORS[g],
      borderColor: GROUP_COLORS[g], borderWidth: 0.6, pointRadius: 0, tension: 0.3 });
  });
  CATEGORIES.forEach((g, i) => ds.push(...boxDatasets(i + 1, stats[i], 0.05, '#333333', '#ffffff', 1.3, 2.2)));
  return setDrawOrder(ds);
}

function ageBoxDatasets(stats) {
  const ds = [];
  CATEGORIES.forEach((g, i) => ds.push(...boxDatasets(i + 1, stats[i], 0.375, GROUP_COLORS[g], '#ffffff', 1.6, 3)));
  return setDrawOrder(ds);
}

// colour key drawn in the upper right of the FA panel
const groupKeyPlugin = {
  id: 'groupKey',
  afterDraw(chart) {
    const { ctx, chartArea } = chart;
    const x0 = chartArea.right - 57, y0 = chartArea.top - 10, size = 23;
    const shades = { BD: '#e0e0e0', HC: '#d0d0d0', SZ: '#bfbfbf' };
    ctx.save();
    ['BD', 'HC', 'SZ'].forEach((g, i) => {
      const y = y0 + i * size;
      ctx.fillStyle = shades[g];
      ctx.fillRect(x0, y, size, size - 1);
      ctx.strokeStyle = GROUP_COLORS[g];
      ctx.lineWidth = 2.6;
      ctx.beginPath();
      ctx.moveTo(x0 + 2.5, y + (size - 1) / 2);
      ctx.lineTo(x0 + size - 2.5, y + (size - 1) / 2);
      ctx.stroke();
      ctx.fillStyle = '#000';
      ctx.font = '13px ' + FONT_FAMILY;
      ctx.textBaseline = 'middle';
      ctx.textAlign = 'left';
      ctx.fillText(g, x0 + size + 4, y + (size - 1) / 2);
    });
    ctx.restore();
  }
};

const isMajor = c => !c.tick || c.tick.isMajor !== false;

function drawPanel(row, col, cfg) {
  const R = ROWS[row];
  const left = COL_LEFT[col];
  const plotL = PLOT_LEFT[row][col];
  const plotR = plotL + PLOT_WIDTH[row];
  const width = Math.ceil(plotR + 4 - left);
  const canvas = document.createElement('canvas');
  canvas.width = width; canvas.height = R.height;
  canvas.style.left = left + 'px'; canvas.style.top = R.top + 'px';
  canvas.style.width = width + 'px'; canvas.style.height = R.height + 'px';
  document.body.appendChild(canvas);

  const yAxisWidth = plotL - left;
  const xAxisHeight = R.top + R.height - R.plotBottom;
  const titleCenter = TITLE_CENTER[row][col];

  new Chart(canvas, {
    type: 'scatter',
    data: { datasets: cfg.datasets },
    plugins: cfg.plugins || [],
    options: {
      responsive: false, animation: false, devicePixelRatio: 1, events: [],
      layout: { padding: { left: 0, top: R.plotTop - R.top, right: width - (plotR - left), bottom: 0 } },
      plugins: { legend: { display: false }, tooltip: { enabled: false } },
      scales: {
        x: {
          type: 'linear', min: cfg.x.range[0], max: cfg.x.range[1],
          afterBuildTicks: s => { s.ticks = cfg.x.ticks.map(v => ({ value: v, isMajor: true })); },
          afterFit: s => { s.height = xAxisHeight; },
          ticks: { autoSkip: false, minRotation: 45, maxRotation: 45, padding: 2, labelOffset: 8, color: TICK_TEXT,
            font: { size: 18.5 }, callback: v => cfg.x.label(v) },
          grid: { color: MAJOR_GRID, lineWidth: 1, tickLength: 4, tickColor: '#333333', tickWidth: 1 },
          border: { display: false, dash: [1.3, 4] }
        },
        y: {
          type: 'linear', min: cfg.y.range[0], max: cfg.y.range[1],
          afterBuildTicks: s => {
            s.ticks = cfg.y.major.map(v => ({ value: v, isMajor: true }))
              .concat((cfg.y.minor || []).map(v => ({ value: v, isMajor: false })));
          },
          afterFit: s => { s.width = yAxisWidth; },
          ticks: { autoSkip: false, padding: 3, color: TICK_TEXT, font: { size: 18.5 },
            callback: (v, i, t) => (t[i].isMajor ? cfg.y.format(v) : '') },
          grid: {
            color: c => (isMajor(c) ? MAJOR_GRID : MINOR_GRID),
            lineWidth: c => (isMajor(c) ? 1 : 0.9),
            tickLength: 4,
            tickColor: c => (isMajor(c) ? '#333333' : 'rgba(0,0,0,0)'),
            tickWidth: 1
          },
          border: { display: false, dash: c => (isMajor(c) ? [1.3, 4] : [1, 1.4]) },
          title: { display: true, text: cfg.title, color: '#000000',
            font: { size: 19, weight: 'bold', lineHeight: 1 },
            padding: { top: titleCenter - 9.5, bottom: 0 } }
        }
      }
    }
  });
}

const ageAxis = { range: AGE_RANGE, ticks: AGE_TICKS, label: v => String(v) };
const groupAxis = { range: CAT_RANGE, ticks: CAT_TICKS, label: v => CATEGORIES[Math.round(v) - 1] };
const fmt3 = v => v.toFixed(3);
const fmt2 = v => v.toFixed(2);
const fmt0 = v => String(Math.round(v));

// row 1: metrics against age
drawPanel(0, 0, { title: 'FA', x: ageAxis, y: { range: [0.4101, 0.4983], major: [0.425, 0.45, 0.475], format: fmt3 },
  datasets: scatterDatasets({ HC: faPtsHC, BD: faPtsBD, SZ: faPtsSZ }, { HC: faFitHC, BD: faFitBD, SZ: faFitSZ }),
  plugins: [groupKeyPlugin] });
drawPanel(0, 1, { title: 'RD', x: ageAxis, y: { range: [506.3, 648.4], major: [550, 600], format: fmt0 },
  datasets: scatterDatasets({ HC: rdPtsHC, BD: rdPtsBD, SZ: rdPtsSZ }, { HC: rdFitHC, BD: rdFitBD, SZ: rdFitSZ }) });
drawPanel(0, 2, { title: 'MD', x: ageAxis, y: { range: [714.0, 844.1], major: [720, 750, 780, 810, 840], format: fmt0 },
  datasets: scatterDatasets({ HC: mdPtsHC, BD: mdPtsBD, SZ: mdPtsSZ }, { HC: mdFitHC, BD: mdFitBD, SZ: mdFitSZ }) });
drawPanel(0, 3, { title: 'AD', x: ageAxis, y: { range: [1097.7, 1274.5], major: [1100, 1150, 1200, 1250], format: fmt0 },
  datasets: scatterDatasets({ HC: adPtsHC, BD: adPtsBD, SZ: adPtsSZ }, { HC: adFitHC, BD: adFitBD, SZ: adFitSZ }) });

// row 2: metric distributions per group
drawPanel(1, 0, { title: 'FA', x: groupAxis,
  y: { range: [0.4174, 0.4696], major: [0.42, 0.43, 0.44, 0.45, 0.46], minor: [0.425, 0.435, 0.445, 0.455, 0.465], format: fmt2 },
  datasets: violinDatasets([faViolinHC, faViolinBD, faViolinSZ], faBox) });
drawPanel(1, 1, { title: 'RD', x: groupAxis,
  y: { range: [552.5, 619.6], major: [560, 580, 600], minor: [570, 590, 610], format: fmt0 },
  datasets: violinDatasets([rdViolinHC, rdViolinBD, rdViolinSZ], rdBox) });
drawPanel(1, 2, { title: 'MD', x: groupAxis,
  y: { range: [761.6, 818.1], major: [770, 780, 790, 800, 810], minor: [765, 775, 785, 795, 805, 815], format: fmt0 },
  datasets: violinDatasets([mdViolinHC, mdViolinBD, mdViolinSZ], mdBox) });
drawPanel(1, 3, { title: 'AD', x: groupAxis,
  y: { range: [1172.4, 1236.0], major: [1180, 1200, 1220], minor: [1190, 1210, 1230], format: fmt0 },
  datasets: violinDatasets([adViolinHC, adViolinBD, adViolinSZ], adBox) });

// row 3: age per group
const ageY = { range: [17.5, 62.0], major: [20, 30, 40, 50, 60], minor: [25, 35, 45, 55], format: fmt0 };
drawPanel(2, 0, { title: 'Age', x: groupAxis, y: ageY, datasets: ageBoxDatasets(ageBoxI) });
drawPanel(2, 1, { title: 'Age', x: groupAxis, y: ageY, datasets: ageBoxDatasets(ageBoxJ) });
drawPanel(2, 2, { title: 'Age', x: groupAxis, y: ageY, datasets: ageBoxDatasets(ageBoxK) });
drawPanel(2, 3, { title: 'Age', x: groupAxis, y: ageY, datasets: ageBoxDatasets(ageBoxL) });

// panel letters
PANEL_LETTERS.forEach(([txt, cx, baseline]) => {
  const d = document.createElement('div');
  d.className = 'panel-letter';
  d.textContent = txt;
  d.style.left = (cx - 15) + 'px';
  d.style.top = (baseline - 15.2) + 'px';
  document.body.appendChild(d);
});
</script>
</body>
</html>
